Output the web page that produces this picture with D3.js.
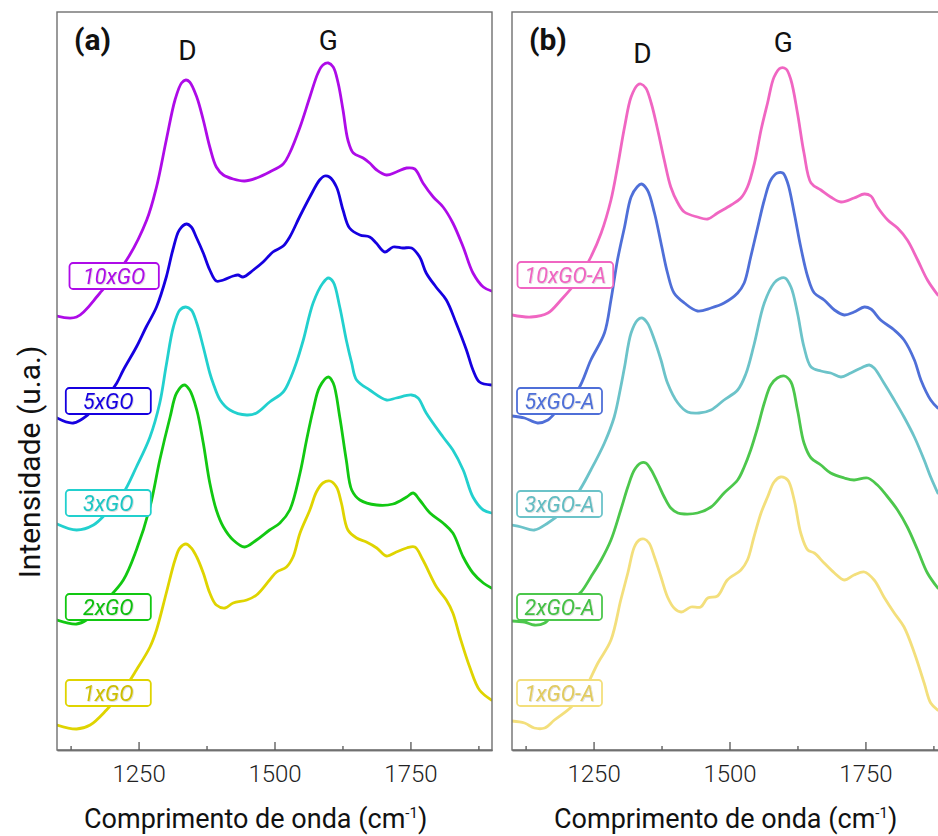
<!DOCTYPE html>
<html><head><meta charset="utf-8">
<script src="https://cdn.jsdelivr.net/npm/d3@7"></script>
<style>
body{margin:0;background:#fff}
svg{display:block}
text{font-family:Roboto,"Noto Sans",sans-serif}
</style>
</head><body>
<svg id="chart" width="938" height="836"></svg>
<script>
// ---------------- DATA (wavenumber cm^-1, intensity a.u., stacked) ----------------
const X_DOMAIN = [1100, 1900];
const Y_DOMAIN = [2, 740];
const MAJOR_TICKS = [1250, 1500, 1750];
const MINOR_TICKS = [1125, 1375, 1625, 1875];
const BANDS = ["D", "G"];
const BAND_POS = [1340, 1599];

const namesA = ["10xGO", "5xGO", "3xGO", "2xGO", "1xGO"];
const namesB = ["10xGO-A", "5xGO-A", "3xGO-A", "2xGO-A", "1xGO-A"];

const GO10 = [[1100,436],[1136,435],[1179,459],[1228,492],[1265,532],[1283,565],[1301,612],[1317,652],[1329,669],[1337,672],[1344,670],[1357,655],[1369,632],[1381,605],[1393,585],[1406,577],[1424,573],[1445,571],[1467,574],[1491,580],[1516,588],[1528,599],[1547,625],[1565,655],[1580,679],[1589,687],[1599,689],[1608,685],[1617,669],[1626,642],[1635,612],[1645,599],[1663,594],[1675,589],[1688,582],[1706,577],[1724,580],[1743,584],[1758,583],[1773,569],[1792,555],[1810,545],[1828,529],[1847,505],[1865,479],[1884,465],[1899,461]];
const GO5 = [[1100,334],[1130,329],[1161,339],[1190,354],[1210,369],[1222,382],[1246,405],[1264,425],[1283,445],[1301,475],[1313,502],[1325,522],[1338,528],[1347,525],[1356,515],[1369,499],[1381,482],[1393,471],[1406,472],[1424,476],[1433,477],[1442,475],[1461,482],[1479,490],[1497,500],[1516,506],[1528,515],[1546,535],[1565,555],[1583,572],[1592,576],[1601,575],[1614,565],[1626,542],[1638,524],[1657,517],[1675,515],[1687,509],[1703,500],[1718,505],[1736,504],[1752,504],[1767,495],[1779,479],[1797,465],[1816,452],[1834,429],[1853,402],[1865,382],[1877,370],[1899,367]];
const GO3 = [[1100,228],[1136,222],[1167,227],[1191,239],[1222,259],[1246,285],[1271,315],[1289,349],[1301,387],[1314,425],[1326,442],[1337,445],[1347,442],[1357,429],[1369,405],[1381,379],[1387,369],[1400,352],[1418,342],[1449,337],[1467,339],[1491,350],[1516,360],[1528,372],[1540,389],[1553,412],[1571,449],[1589,469],[1599,474],[1608,470],[1620,445],[1632,412],[1642,389],[1651,372],[1675,362],[1706,352],[1724,354],[1752,357],[1764,354],[1779,339],[1810,315],[1828,302],[1847,282],[1865,255],[1884,242],[1899,239]];
const GO2 = [[1100,132],[1136,128],[1154,132],[1191,152],[1222,172],[1246,202],[1271,245],[1289,292],[1308,335],[1320,359],[1334,367],[1344,362],[1357,342],[1369,309],[1381,269],[1393,242],[1406,225],[1424,212],[1445,205],[1467,212],[1491,222],[1510,229],[1528,242],[1547,279],[1559,312],[1571,342],[1583,365],[1599,375],[1608,369],[1620,335],[1632,292],[1642,262],[1657,252],[1688,247],[1718,248],[1743,255],[1755,259],[1767,252],[1786,239],[1810,229],[1828,219],[1847,195],[1865,179],[1884,169],[1899,164]];
const GO1 = [[1100,27],[1136,23],[1161,27],[1191,42],[1222,62],[1246,82],[1271,105],[1283,122],[1301,159],[1317,192],[1326,204],[1337,208],[1347,204],[1357,195],[1369,179],[1381,159],[1393,147],[1409,144],[1424,149],[1449,152],[1467,157],[1491,172],[1504,180],[1522,185],[1534,195],[1547,219],[1565,242],[1577,260],[1589,269],[1602,271],[1614,265],[1623,249],[1635,222],[1651,214],[1669,210],[1688,204],[1706,196],[1724,200],[1743,204],[1758,205],[1773,192],[1798,165],[1816,152],[1828,139],[1841,115],[1859,85],[1877,62],[1899,52]];

const GOA10 = [[1100,437],[1135,435],[1166,439],[1190,452],[1221,472],[1245,495],[1264,519],[1282,552],[1294,585],[1307,625],[1319,655],[1331,667],[1337,668],[1346,664],[1356,649],[1368,622],[1380,592],[1392,565],[1405,549],[1417,540],[1441,535],[1460,533],[1478,539],[1503,547],[1521,554],[1533,565],[1546,589],[1558,622],[1570,649],[1582,675],[1594,684],[1604,683],[1613,672],[1625,639],[1637,599],[1650,569],[1668,562],[1686,555],[1705,550],[1729,554],[1748,558],[1760,556],[1772,545],[1791,532],[1809,524],[1827,512],[1846,492],[1864,472],[1883,457]];
const GOA5 = [[1100,336],[1123,334],[1147,329],[1166,332],[1184,342],[1221,362],[1245,392],[1270,419],[1282,452],[1294,492],[1307,525],[1319,555],[1330,565],[1338,568],[1349,562],[1362,539],[1374,509],[1386,479],[1398,459],[1417,449],[1441,441],[1466,444],[1490,449],[1515,459],[1527,469],[1539,495],[1552,525],[1564,552],[1576,572],[1588,579],[1598,579],[1607,569],[1619,539],[1631,505],[1644,475],[1656,459],[1674,452],[1693,442],[1711,437],[1729,440],[1748,445],[1760,443],[1778,432],[1803,422],[1821,412],[1840,392],[1852,372],[1870,352],[1883,344]];
const GOA3 = [[1100,227],[1117,225],[1141,222],[1166,229],[1190,239],[1221,259],[1245,282],[1270,309],[1288,335],[1300,365],[1307,385],[1319,419],[1331,432],[1339,434],[1349,429],[1362,412],[1374,392],[1386,369],[1405,349],[1423,340],[1444,339],[1466,342],[1490,352],[1515,362],[1530,378],[1545,407],[1564,449],[1582,469],[1591,473],[1602,474],[1613,465],[1625,439],[1637,405],[1650,385],[1668,381],[1686,379],[1705,375],[1723,379],[1742,384],[1757,387],[1766,384],[1784,369],[1803,352],[1821,335],[1840,315],[1858,292],[1870,275],[1883,259]];
const GOA2 = [[1100,131],[1123,130],[1141,127],[1160,129],[1178,139],[1209,152],[1227,160],[1245,175],[1264,192],[1282,212],[1300,242],[1313,265],[1325,282],[1337,289],[1346,289],[1356,282],[1368,269],[1380,255],[1392,244],[1405,239],[1417,238],[1441,239],[1466,245],[1490,259],[1515,272],[1527,285],[1539,302],[1552,325],[1564,349],[1576,367],[1588,374],[1601,376],[1613,370],[1625,342],[1637,309],[1650,294],[1668,287],[1686,279],[1711,274],[1729,272],[1754,274],[1772,267],[1791,255],[1809,242],[1827,225],[1846,202],[1864,179],[1883,164]];
const GOA1 = [[1100,31],[1123,29],[1141,24],[1160,24],[1178,32],[1209,45],[1233,62],[1258,89],[1282,112],[1300,152],[1313,179],[1325,205],[1334,212],[1343,213],[1352,209],[1362,195],[1374,175],[1386,155],[1398,144],[1411,140],[1429,145],[1447,145],[1460,154],[1478,156],[1496,172],[1521,182],[1533,192],[1545,215],[1558,239],[1570,255],[1582,270],[1594,275],[1607,272],[1619,252],[1631,219],[1644,202],[1656,199],[1674,189],[1693,179],[1711,172],[1729,177],[1748,180],[1766,172],[1784,155],[1803,139],[1821,125],[1840,99],[1858,69],[1870,49],[1883,42]];

// ---------------- STYLE / LAYOUT ----------------
const colorsA = ["#ae0be8", "#1600e0", "#22d0ce", "#12c812", "#dfd400"];
const textColorsA = ["#ae0be8", "#1600e0", "#1fc6c4", "#10c010", "#cdbf00"];
const colorsB = ["#f066c2", "#4f6fd8", "#6cc3c9", "#4cc74c", "#f3df7c"];
const textColorsB = ["#f066c2", "#4f6fd8", "#62bcc2", "#44c044", "#e2cb5e"];

const PW = 435, TOP = 12, BOTTOM = 750;
const svg = d3.select("#chart");
const defs = svg.append("defs");
const f = defs.append("filter").attr("id","sh").attr("x","-10%").attr("y","-20%").attr("width","130%").attr("height","150%");
f.append("feDropShadow").attr("dx",0.7).attr("dy",0.7).attr("stdDeviation",0.4).attr("flood-color","#000").attr("flood-opacity",0.2);

const y = d3.scaleLinear().domain(Y_DOMAIN).range([BOTTOM, TOP]);

const panels = [
  {key:"a", left:57, tag:"(a)", series:[GO10,GO5,GO3,GO2,GO1], names:namesA, colors:colorsA, tcolors:textColorsA,
   labelTops:[263,388,490,594,680], textX:83, pad:13.5, bandBase:[60,50], titleX:84},
  {key:"b", left:512, tag:"(b)", series:[GOA10,GOA5,GOA3,GOA2,GOA1], names:namesB, colors:colorsB, tcolors:textColorsB,
   labelTops:[262,388,491,594,680], textX:524.5, pad:7, bandBase:[63,52], titleX:554}
];

panels.forEach(p => {
  const x = d3.scaleLinear().domain(X_DOMAIN).range([p.left, p.left + PW]);
  const g = svg.append("g");

  defs.append("clipPath").attr("id","clip"+p.key)
    .append("rect").attr("x",p.left).attr("y",TOP).attr("width",PW).attr("height",BOTTOM-TOP);

  const line = d3.line().x(d => x(d[0])).y(d => y(d[1])).curve(d3.curveCatmullRom.alpha(0.5));
  const lg = g.append("g").attr("clip-path","url(#clip"+p.key+")");
  p.series.forEach((s,i) => {
    lg.append("path").datum(s).attr("d", line)
      .attr("fill","none").attr("stroke",p.colors[i]).attr("stroke-width",2.8)
      .attr("stroke-linejoin","round").attr("stroke-linecap","round");
  });

  // frame
  g.append("rect").attr("x",p.left).attr("y",TOP).attr("width",PW).attr("height",BOTTOM-TOP)
    .attr("fill","none").attr("stroke","#707070").attr("stroke-width",1.4);

  // axes
  const axMajor = d3.axisBottom(x).tickValues(MAJOR_TICKS).tickSize(-8).tickSizeOuter(0).tickPadding(15).tickFormat(d3.format("d"));
  const axMinor = d3.axisBottom(x).tickValues(MINOR_TICKS).tickSize(-4).tickSizeOuter(0).tickFormat("");
  const gMin = g.append("g").attr("transform",`translate(0,${BOTTOM})`).call(axMinor);
  const gMaj = g.append("g").attr("transform",`translate(0,${BOTTOM})`).call(axMajor);
  [gMin,gMaj].forEach(a => {
    a.select(".domain").attr("stroke","#707070").attr("stroke-width",1.6);
    a.selectAll(".tick line").attr("stroke","#555").attr("stroke-width",1.3);
  });
  gMaj.selectAll(".tick text").attr("font-size",24).attr("font-weight",300)
    .attr("fill","#222").style("font-family","Roboto, sans-serif");

  // panel tag
  g.append("text").attr("x",p.left+17).attr("y",50).text(p.tag)
    .attr("font-size",30).attr("font-weight",700).attr("fill","#111");

  // band labels
  BANDS.forEach((b,i) => {
    g.append("text").attr("x",x(BAND_POS[i])).attr("y",p.bandBase[i]).attr("text-anchor","middle")
      .attr("font-size",28).attr("fill","#111").text(b);
  });

  // series labels
  p.names.forEach((n,i) => {
    const top = p.labelTops[i];
    const lab = g.append("g");
    const rect = lab.append("rect");
    const t = lab.append("text").attr("x",p.textX).attr("y",top+13).attr("dy","0.36em")
      .attr("font-size",21.5).attr("font-style","italic").attr("font-weight",400)
      .attr("fill",p.tcolors[i]).attr("filter","url(#sh)").text(n);
    const tw = t.node().getComputedTextLength();
    const w = Math.max(tw + 2*p.pad, 85);
    const cx = p.textX + tw/2;
    rect.attr("x",cx - w/2).attr("y",top).attr("width",w).attr("height",26).attr("rx",3.5)
      .attr("fill","#fff").attr("stroke",p.colors[i]).attr("stroke-width",1.8);
  });

  // x title
  const tt = g.append("text").attr("x",p.titleX).attr("y",828).attr("font-size",27).attr("fill","#111");
  tt.append("tspan").text("Comprimento de onda (cm");
  tt.append("tspan").attr("dy",-10).attr("font-size",15).text("-1");
  tt.append("tspan").attr("dy",10).text(")");
});

// y title
svg.append("text").attr("transform","translate(40,462) rotate(-90)").attr("text-anchor","middle")
  .attr("font-size",30).attr("fill","#111").text("Intensidade (u.a.)");
</script>
</body></html>
